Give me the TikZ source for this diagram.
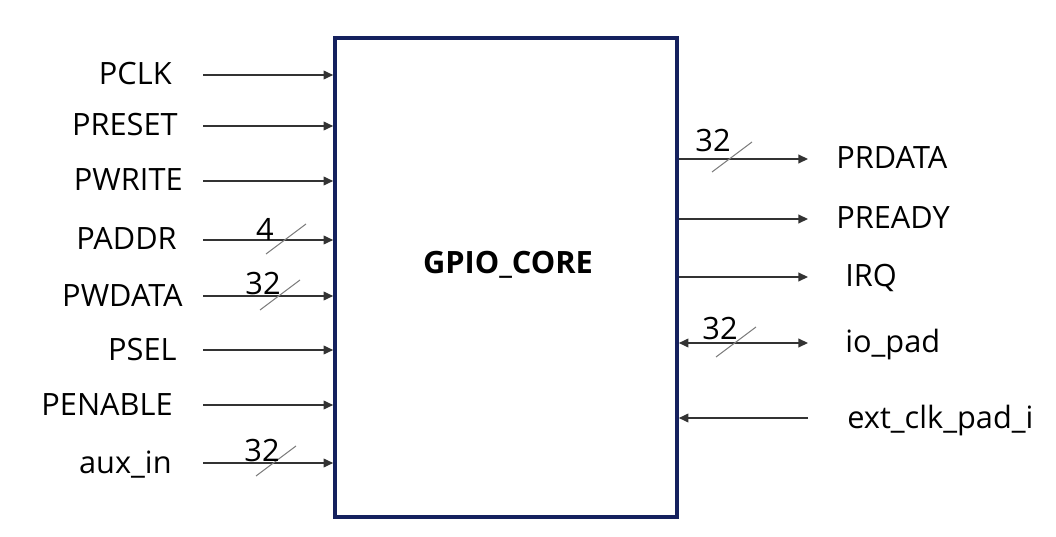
\documentclass[tikz,border=0pt]{standalone}
\usepackage{fontspec}
\setmainfont{Open Sans}
\usetikzlibrary{arrows.meta,positioning}
\definecolor{corenavy}{HTML}{15215E}
\definecolor{slashgrey}{HTML}{7F7F7F}

\tikzset{
  sig/.style={draw=black!80, line width=0.8pt, -{Triangle[length=5.5pt,width=5pt]}},
  biSig/.style={draw=black!80, line width=0.8pt, {Triangle[length=5.5pt,width=5pt]}-{Triangle[length=5.5pt,width=5pt]}},
  sigLabel/.style={font=\fontsize{17.5}{20}\selectfont, inner sep=0pt},
  busSlash/.style={draw=slashgrey, line width=0.6pt},
  coreBox/.style={draw=corenavy, line width=2.1pt, fill=white, minimum width=6.84cm, minimum height=9.58cm, inner sep=0pt}
}

\begin{document}
\begin{tikzpicture}[x=0.02cm,y=-0.02cm]
  \useasboundingbox (0,0) rectangle (1056,537);
  \node[coreBox] (core) at (506,277.5) {};
  \node[font=\fontsize{17.5}{20}\selectfont\bfseries] (coreName) at (508,265) {GPIO\_CORE};

  % inputs on the left
  \foreach \name/\lab/\x/\y in {pclk/PCLK/172/75, preset/PRESET/178/126, pwrite/PWRITE/183/181, paddr/PADDR/177/240,
                                pwdata/PWDATA/183/296, psel/PSEL/177/350, penable/PENABLE/173/405, auxin/aux\_in/172/463} {
    \node[sigLabel, anchor=base east] (\name) at (\x,\y+10) {\lab};
    \coordinate (\name-s) at (203,\y);
    \draw[sig] (\name-s) -- (\name-s -| core.west);
  }

  % outputs on the right
  \foreach \name/\lab/\x/\y in {prdata/PRDATA/836/159, pready/PREADY/836/219, irq/IRQ/845/277} {
    \node[sigLabel, anchor=base west] (\name) at (\x,\y+10) {\lab};
    \coordinate (\name-e) at (808,\y);
    \draw[sig] (\name-e -| core.east) -- (\name-e);
  }
  \node[sigLabel, anchor=base west] (iopad) at (845,343+10) {io\_pad};
  \coordinate (iopad-e) at (808,343);
  \draw[biSig] (iopad-e -| core.east) -- (iopad-e);
  \node[sigLabel, anchor=base west] (extclk) at (847,418+10) {ext\_clk\_pad\_i};
  \coordinate (extclk-e) at (808,418);
  \draw[sig] (extclk-e) -- (extclk-e -| core.east);

  % bus widths
  \foreach \w/\x/\y/\lx/\ly in {4/286/239/265/229, 32/280/295/263/284, 32/276/461/262/451,
                                32/732/157/713/141, 32/736/342/720/329} {
    \draw[busSlash] (\x-20,\y+15) -- (\x+20,\y-15);
    \node[sigLabel] at (\lx,\ly) {\w};
  }
\end{tikzpicture}
\end{document}
